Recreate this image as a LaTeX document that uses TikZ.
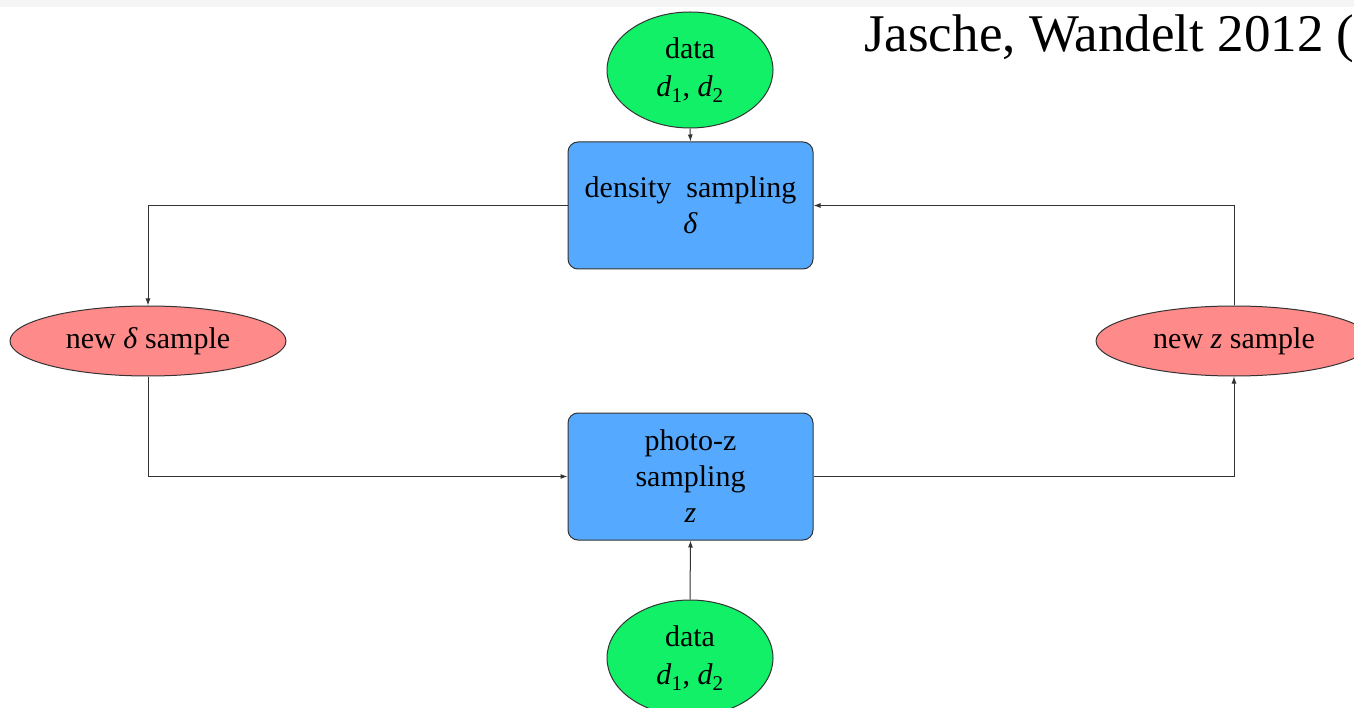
\documentclass[tikz,border=0pt]{standalone}
\usepackage{fontspec}
\setmainfont{Liberation Serif}
\usetikzlibrary{shapes.geometric,arrows.meta}
\definecolor{datagreen}{HTML}{11F066}
\definecolor{stepblue}{HTML}{55AAFF}
\definecolor{samplered}{HTML}{FF8A8A}
\definecolor{edgegray}{HTML}{333333}
\tikzset{
  lbl/.style={font=\fontsize{30}{36}\selectfont, align=center, text=black},
  datanode/.style={lbl, ellipse, draw=edgegray, line width=1pt, fill=datagreen,
    minimum width=166pt, minimum height=116pt, inner sep=0pt},
  samplenode/.style={lbl, ellipse, draw=edgegray, line width=1pt, fill=samplered,
    minimum width=276pt, minimum height=70pt, inner sep=0pt},
  stepbox/.style={lbl, rectangle, rounded corners=10pt, draw=edgegray, line width=1pt,
    fill=stepblue, minimum width=245pt, minimum height=127pt, inner sep=0pt},
  arr/.style={draw=edgegray, line width=1pt, -{Latex[length=7pt,width=5pt]}}
}
\newcommand{\dd}{\textit{d}\textsubscript{1}, \textit{d}\textsubscript{2}}
\begin{document}
\begin{tikzpicture}[x=1pt,y=-1pt]
  \useasboundingbox (0,0) rectangle (1354,708);
  \clip (0,0) rectangle (1354,708);
  \fill[white] (0,0) rectangle (1354,708);
  \fill[black!4] (0,0) rectangle (1354,7);

  % nodes
  \node[datanode] (dtop) at (690,70) {data\\[2pt]\dd};
  \node[stepbox] (dens) at (690.5,205.5) {density\ \ sampling\\\textit{δ}};
  \node[samplenode] (newd) at (148,341) {new \textit{δ} sample};
  \node[samplenode] (newz) at (1234,341) {new \textit{z} sample};
  \node[stepbox] (photo) at (690.5,476.5) {photo-z\\sampling\\\textit{z}};
  \node[datanode] (dbot) at (690,658) {data\\[2pt]\dd};

  % connectors
  \draw[arr] (dtop.south) -- (dens.north);
  \draw[arr] (dbot.north) -- (photo.south);
  \draw[arr] (dens.west) -| (newd.north);
  \draw[arr] (newd.south) |- (photo.west);
  \draw[arr] (photo.east) -| (newz.south);
  \draw[arr] (newz.north) |- (dens.east);

  % reference line
  \node[anchor=base west, inner sep=0pt, font=\fontsize{53}{60}\selectfont] (cite) at (864,52) {Jasche, Wandelt 2012 (};
\end{tikzpicture}
\end{document}
